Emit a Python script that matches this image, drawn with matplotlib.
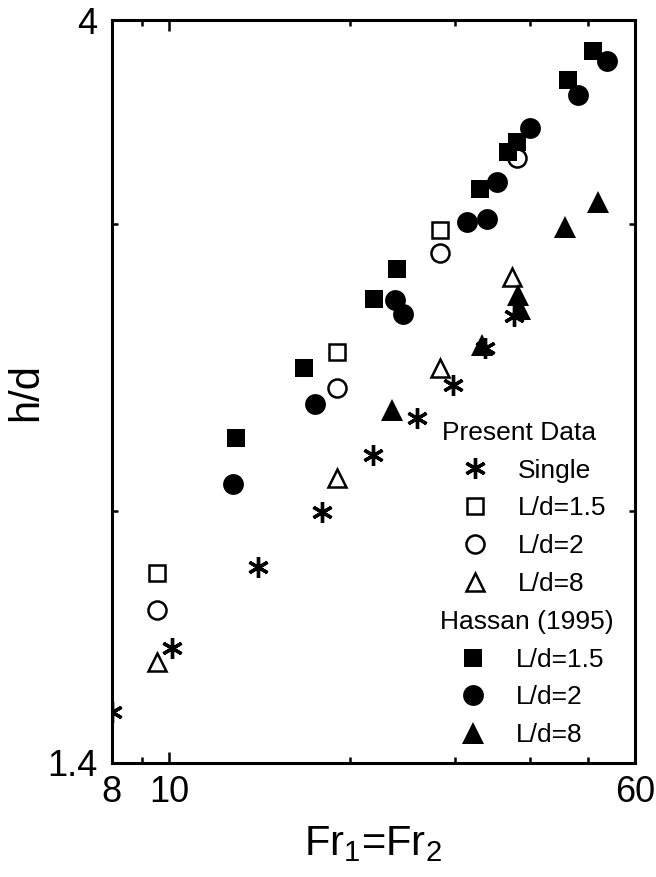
import matplotlib
matplotlib.use("Agg")
import matplotlib.pyplot as plt
from matplotlib.lines import Line2D
from matplotlib.ticker import FixedLocator, FixedFormatter, NullFormatter

plt.rcParams['font.family'] = ['Liberation Sans', 'DejaVu Sans']
plt.rcParams['mathtext.fontset'] = 'custom'
plt.rcParams['mathtext.rm'] = 'Liberation Sans'
plt.rcParams['mathtext.it'] = 'Liberation Sans'

# Present data
single_fr = [8.02, 10.09, 14.07, 18.01, 21.92, 25.89, 29.81, 33.68, 37.65]
single_hd = [1.505, 1.646, 1.848, 1.997, 2.163, 2.280, 2.390, 2.516, 2.633]

p15_fr = [9.52, 19.03, 28.32]
p15_hd = [1.832, 2.503, 2.973]

p2_fr = [9.52, 19.03, 28.32, 38.05]
p2_hd = [1.738, 2.378, 2.877, 3.290]

p8_fr = [9.52, 19.03, 28.32, 37.32]
p8_hd = [1.615, 2.093, 2.448, 2.782]

# Hassan (1995)
h15_fr = [12.90, 16.78, 22.00, 23.97, 33.04, 36.84, 38.05, 46.41, 51.09]
h15_hd = [2.215, 2.446, 2.699, 2.813, 3.153, 3.320, 3.365, 3.678, 3.831]

h2_fr = [12.76, 17.51, 23.86, 24.53, 31.39, 33.90, 35.23, 40.00, 48.23, 53.80]
h2_hd = [2.078, 2.325, 2.693, 2.640, 3.008, 3.022, 3.182, 3.434, 3.598, 3.777]

h8_fr = [23.56, 33.26, 38.28, 38.54, 45.82, 52.08]
h8_hd = [2.304, 2.526, 2.712, 2.659, 2.987, 3.094]

x_ticks = [8, 10, 60]
x_ticklabels = ['8', '10', '60']
x_minor = [9, 20, 30, 40, 50]
y_ticks = [1.4, 4]
y_ticklabels = ['1.4', '4']
y_minor = [2, 3]

present_labels = ['Single', 'L/d=1.5', 'L/d=2', 'L/d=8']
hassan_labels = ['L/d=1.5', 'L/d=2', 'L/d=8']

star = dict(marker=(6, 2, 0), ms=15, mew=2.4, color='black')
open_sq = dict(marker='s', ms=11.5, mew=1.8, mfc='none', mec='black')
open_ci = dict(marker='o', ms=13, mew=1.8, mfc='none', mec='black')
open_tri = dict(marker='^', ms=13.5, mew=1.8, mfc='none', mec='black')
fill_sq = dict(marker='s', ms=13, mew=0, mfc='black', mec='black')
fill_ci = dict(marker='o', ms=15, mew=0, mfc='black', mec='black')
fill_tri = dict(marker='^', ms=15.5, mew=0, mfc='black', mec='black')

fig = plt.figure(figsize=(6.56, 8.77), dpi=100)
ax = fig.add_axes([0.170, 0.130, 0.798, 0.847])
ax.set_xscale('log')
ax.set_yscale('log')

ax.plot(h15_fr, h15_hd, ls='none', **fill_sq)
ax.plot(h2_fr, h2_hd, ls='none', **fill_ci)
ax.plot(h8_fr, h8_hd, ls='none', **fill_tri)
ax.plot(single_fr, single_hd, ls='none', **star)
ax.plot(p15_fr, p15_hd, ls='none', **open_sq)
ax.plot(p2_fr, p2_hd, ls='none', **open_ci)
ax.plot(p8_fr, p8_hd, ls='none', **open_tri)

ax.set_xlim(8, 60)
ax.set_ylim(1.4, 4)

ax.xaxis.set_major_locator(FixedLocator(x_ticks))
ax.xaxis.set_major_formatter(FixedFormatter(x_ticklabels))
ax.xaxis.set_minor_locator(FixedLocator(x_minor))
ax.xaxis.set_minor_formatter(NullFormatter())
ax.yaxis.set_major_locator(FixedLocator(y_ticks))
ax.yaxis.set_major_formatter(FixedFormatter(y_ticklabels))
ax.yaxis.set_minor_locator(FixedLocator(y_minor))
ax.yaxis.set_minor_formatter(NullFormatter())

ax.tick_params(which='both', direction='in', top=True, right=True, width=1.8, labelsize=26)
ax.tick_params(which='major', length=8)
ax.tick_params(which='minor', length=4)
ax.tick_params(axis='x', pad=9)
ax.tick_params(axis='y', pad=10)
for s in ax.spines.values():
    s.set_linewidth(2.2)

ax.set_xlabel('Fr$_1$=Fr$_2$', fontsize=30, labelpad=10)
ax.set_ylabel('h/d', fontsize=30, labelpad=1)

leg_kw = dict(loc='upper left', bbox_transform=fig.transFigure, frameon=False,
              fontsize=19, title_fontsize=19, alignment='left', borderpad=0,
              borderaxespad=0, handlelength=2.5, handletextpad=0.38,
              labelspacing=0.52, numpoints=1)

h1 = [Line2D([], [], ls='none', **st) for st in (star, open_sq, open_ci, open_tri)]
leg1 = ax.legend(h1, present_labels, title='Present Data', bbox_to_anchor=(0.674, 0.520), **leg_kw)
ax.add_artist(leg1)
h2 = [Line2D([], [], ls='none', **st) for st in (fill_sq, fill_ci, fill_tri)]
ax.legend(h2, hassan_labels, title='Hassan (1995)', bbox_to_anchor=(0.671, 0.3044), **leg_kw)

fig.savefig('out.png', dpi=100)
